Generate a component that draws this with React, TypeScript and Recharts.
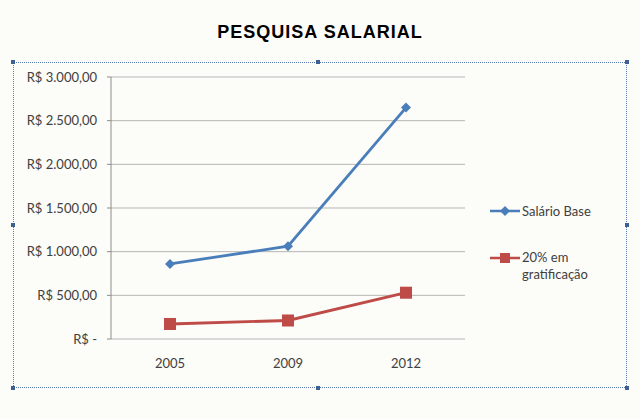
import React from 'react';
import { LineChart, Line, XAxis, YAxis, CartesianGrid } from 'recharts';

const years = ['2005', '2009', '2012'];
const salarioBase = [860, 1062, 2650];
const gratificacao = [172, 212, 530];
const yTicks = [0, 500, 1000, 1500, 2000, 2500, 3000];

const data = years.map((ano, i) => ({
    ano,
    base: salarioBase[i],
    grat: gratificacao[i],
}));

const BLUE = '#4a7ebb';
const RED = '#be4b48';
const FONT = 'Lato, "Open Sans", sans-serif';

function formatReal(v: number) {
    if (v === 0) return 'R$ -';
    const [int, dec] = v.toFixed(2).split('.');
    return 'R$ ' + int.replace(/\B(?=(\d{3})+(?!\d))/g, '.') + ',' + dec;
}

const Diamond = (props: any) => {
    const { cx, cy, fill } = props;
    if (cx == null || cy == null) return null;
    return <path d={`M${cx},${cy - 5} L${cx + 5},${cy} L${cx},${cy + 5} L${cx - 5},${cy} Z`} fill={fill} />;
};

const Square = (props: any) => {
    const { cx, cy, fill } = props;
    if (cx == null || cy == null) return null;
    return <rect x={cx - 6} y={cy - 6} width={12} height={12} fill={fill} />;
};

// legenda desenhada fora do gráfico para não roubar espaço do plot
function LegendBox() {
    return (
        <div style={{ position: 'absolute', left: 490, top: 201, fontFamily: FONT, fontSize: 13, color: '#404040', width: 130 }}>
            <div style={{ display: 'flex', alignItems: 'center', height: 20 }}>
                <svg width={32} height={12}>
                    <line x1={0} y1={6} x2={30} y2={6} stroke={BLUE} strokeWidth={2.5} />
                    <path d="M15,1 L20,6 L15,11 L10,6 Z" fill={BLUE} />
                </svg>
                <span>Salário Base</span>
            </div>
            <div style={{ display: 'flex', alignItems: 'flex-start', marginTop: 28 }}>
                <svg width={32} height={14} style={{ marginTop: 2 }}>
                    <line x1={0} y1={7} x2={30} y2={7} stroke={RED} strokeWidth={2.5} />
                    <rect x={10} y={2} width={10} height={10} fill={RED} />
                </svg>
                <span style={{ lineHeight: '17px' }}>20% em<br />gratificação</span>
            </div>
        </div>
    );
}

const handles = [
    [13, 62], [318, 62], [627, 62],
    [13, 225], [627, 225],
    [13, 388], [318, 388], [627, 388],
];

export default function App() {
    return (
        <div style={{ position: 'absolute', left: 0, top: 0, width: 640, height: 419, background: '#fcfcf8', overflow: 'hidden' }}>
            <div style={{
                position: 'absolute', left: 0, top: 22, width: 640, textAlign: 'center',
                fontFamily: '"Liberation Sans", Arial, sans-serif', fontWeight: 'bold', fontSize: 18,
                letterSpacing: 1, color: '#000',
            }}>
                PESQUISA SALARIAL
            </div>
            <div style={{
                position: 'absolute', left: 13, top: 62, width: 614, height: 326,
                border: '1px dotted #5a7bb0', boxSizing: 'border-box',
            }} />
            {handles.map(([x, y], i) => (
                <div key={i} style={{ position: 'absolute', left: x - 2, top: y - 2, width: 4, height: 4, background: '#3d5f91' }} />
            ))}
            <div style={{ position: 'absolute', left: 0, top: 0 }}>
                <LineChart width={640} height={419} data={data} margin={{ top: 77, right: 175, left: 0, bottom: 50 }}>
                    <CartesianGrid vertical={false} stroke="#b5b5b5" />
                    <XAxis
                        xAxisId="frame"
                        type="number"
                        domain={[0, 3]}
                        ticks={[0, 1, 2, 3]}
                        allowDataOverflow
                        tick={false}
                        height={0}
                        stroke="#8c8c8c"
                        tickSize={5}
                    />
                    <XAxis
                        dataKey="ano"
                        scale="point"
                        padding={{ left: 59, right: 59 }}
                        axisLine={false}
                        tickLine={false}
                        height={30}
                        tick={{ fill: '#404040', fontSize: 13, fontFamily: FONT }}
                        dy={12}
                    />
                    <YAxis
                        domain={[0, 3000]}
                        ticks={yTicks}
                        tickFormatter={formatReal}
                        width={111}
                        stroke="#8c8c8c"
                        tickSize={4}
                        tickMargin={10}
                        tick={{ fill: '#404040', fontSize: 13, fontFamily: FONT }}
                    />
                    <Line
                        dataKey="base"
                        name="Salário Base"
                        stroke={BLUE}
                        strokeWidth={2.8}
                        dot={<Diamond fill={BLUE} />}
                        isAnimationActive={false}
                    />
                    <Line
                        dataKey="grat"
                        name="20% em gratificação"
                        stroke={RED}
                        strokeWidth={2.8}
                        dot={<Square fill={RED} />}
                        isAnimationActive={false}
                    />
                </LineChart>
            </div>
            <LegendBox />
        </div>
    );
}
